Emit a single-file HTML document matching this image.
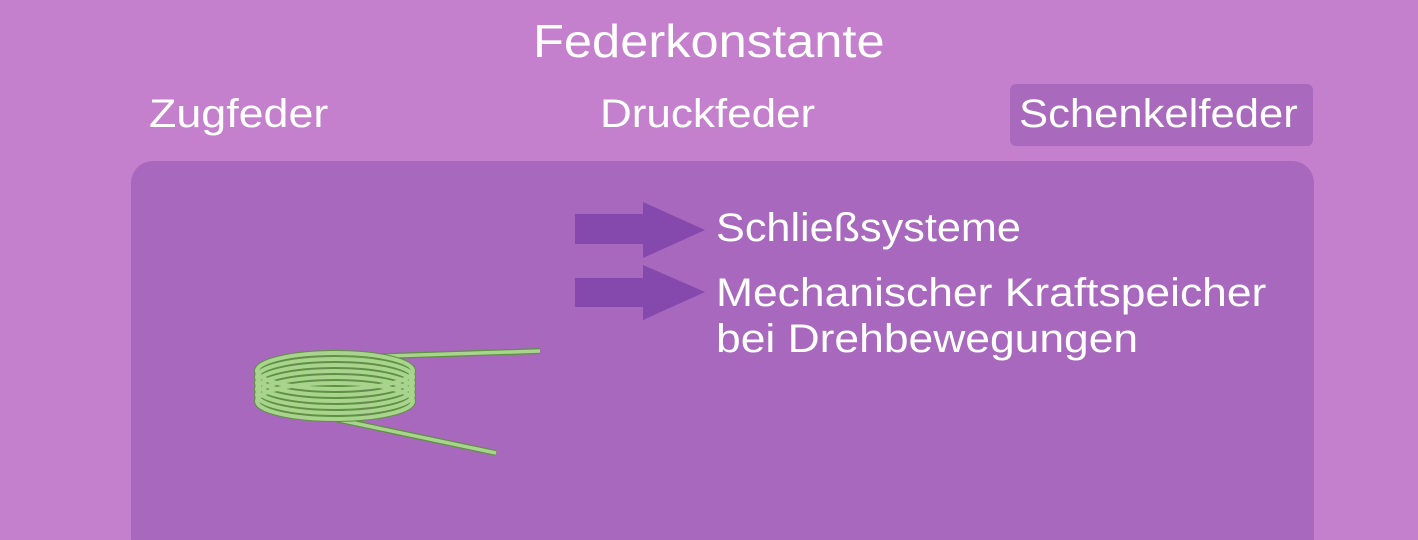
<!DOCTYPE html>
<html><head><meta charset="utf-8"><style>
html,body{margin:0;width:1418px;height:540px;overflow:hidden}
body{background:#c580cd;position:relative;font-family:"Liberation Sans","DejaVu Sans",sans-serif;color:#fff}
.t{position:absolute;white-space:nowrap;transform-origin:0 0}
</style></head><body>
<div class="t" style="left:533px;top:14px;font-size:46px;transform:scaleX(1.1)">Federkonstante</div>
<div class="t" style="left:149px;top:92px;font-size:40px;transform:scaleX(1.12)">Zugfeder</div>
<div class="t" style="left:600px;top:92px;font-size:40px;transform:scaleX(1.1)">Druckfeder</div>
<div style="position:absolute;left:1010px;top:84px;width:303px;height:62px;background:#a96abd;border-radius:6px"></div>
<div class="t" style="left:1019px;top:92px;font-size:40px;transform:scaleX(1.09)">Schenkelfeder</div>
<div style="position:absolute;left:131px;top:161px;width:1183px;height:400px;background:#a868bd;border-radius:22px"></div>
<svg style="position:absolute;left:0;top:0" width="1418" height="540">
<polygon points="575,214 643,214 643,202 705,230 643,258 643,244 575,244" fill="#8548ad"/>
<polygon points="575,278 643,278 643,265 705,292 643,320 643,307 575,307" fill="#8548ad"/>
<g fill="none">
<line x1="330" y1="358" x2="540" y2="351" stroke="#5e9142" stroke-width="6"/>
<line x1="330" y1="358" x2="540" y2="351" stroke="#a9d48d" stroke-width="3.5"/>
<line x1="330" y1="418" x2="496" y2="453" stroke="#5e9142" stroke-width="6"/>
<line x1="330" y1="418" x2="496" y2="453" stroke="#a9d48d" stroke-width="3.5"/>
<g stroke="#5e9142" stroke-width="6">
<ellipse cx="335" cy="401" rx="78" ry="18"/><ellipse cx="335" cy="395" rx="78" ry="18"/><ellipse cx="335" cy="389" rx="78" ry="18"/><ellipse cx="335" cy="383" rx="78" ry="18"/><ellipse cx="335" cy="377" rx="78" ry="18"/><ellipse cx="335" cy="371" rx="78" ry="18"/>
</g>
<g stroke="#a9d48d" stroke-width="4">
<ellipse cx="335" cy="401" rx="78" ry="18"/><ellipse cx="335" cy="395" rx="78" ry="18"/><ellipse cx="335" cy="389" rx="78" ry="18"/><ellipse cx="335" cy="383" rx="78" ry="18"/><ellipse cx="335" cy="377" rx="78" ry="18"/><ellipse cx="335" cy="371" rx="78" ry="18"/>
</g>
</g>
</svg>
<div class="t" style="left:716px;top:206px;font-size:40px;transform:scaleX(1.08)">Schließsysteme</div>
<div class="t" style="left:716px;top:270px;font-size:40px;line-height:46px;transform:scaleX(1.11)">Mechanischer Kraftspeicher<br>bei Drehbewegungen</div>
</body></html>
